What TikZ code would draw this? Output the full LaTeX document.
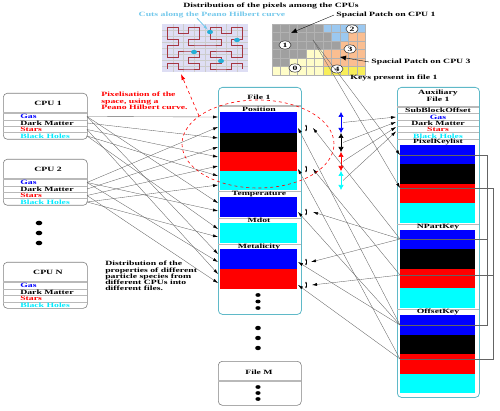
\documentclass[tikz,border=0pt]{standalone}
\usepackage{fontspec}
\setmainfont{Liberation Serif}
\usetikzlibrary{arrows.meta,positioning}

\definecolor{boxteal}{RGB}{95,185,200}
\definecolor{bhcyan}{RGB}{0,235,255}
\definecolor{barcyan}{RGB}{0,255,255}
\definecolor{barblue}{RGB}{0,0,255}
\definecolor{barred}{RGB}{255,0,0}
\definecolor{linkgray}{RGB}{100,100,100}
\definecolor{lavender1}{RGB}{222,222,244}
\definecolor{curvered}{RGB}{165,55,65}
\definecolor{cutcyan}{RGB}{35,175,215}
\definecolor{capcyan}{RGB}{115,200,235}
\definecolor{pG}{RGB}{160,160,160}
\definecolor{pB}{RGB}{155,200,240}
\definecolor{pO}{RGB}{250,190,145}
\definecolor{pY}{RGB}{255,253,200}
\definecolor{pV}{RGB}{248,238,90}

\tikzset{
  txt/.style={font=\bfseries\fontsize{6.5}{6.3}\selectfont, xscale=1.5, inner sep=0pt},
  cpubox/.style={draw=gray, rounded corners=4pt, line width=0.6pt, inner sep=0pt, anchor=north west},
  filebox/.style={draw=boxteal, rounded corners=4pt, line width=0.8pt, inner sep=0pt, anchor=north west},
  sepline/.style={draw=gray!55, line width=0.4pt},
  wire/.style={draw=linkgray, line width=0.35pt, -{Latex[length=5pt,width=3pt,color=black]}},
  stackarrow/.style={{Latex[length=5pt,width=5.5pt]}-{Latex[length=5pt,width=5.5pt]}, line width=0.6pt},
  keytick/.style={{Latex[length=1.8pt,width=1.8pt]}-{Latex[length=1.8pt,width=1.8pt]}, line width=0.4pt},
  pnum/.style={txt, circle, draw, fill=white, inner sep=1pt},
  patcharrow/.style={line width=0.35pt, -{Latex[length=6pt,width=5pt]}}
}

\begin{document}
\begin{tikzpicture}[x=1pt, y=-1pt, >={Latex[length=5pt,width=3pt]}]
\useasboundingbox (0,0) rectangle (500,411);

\node[txt] (toptitle) at (271,6) {Distribution of the pixels among the CPUs};
\node[txt, text=capcyan] (hcap) at (212,15) {Cuts along the Peano Hilbert curve};

\begin{scope}[shift={(162,72)}, x=10.75pt, y=6pt]
  \fill[lavender1] (0,0) rectangle (8,8);
  \foreach \i in {1,...,7}
    \draw[gray!40, line width=0.3pt] (\i,0) -- (\i,8) (0,\i) -- (8,\i);
  \draw[curvered, line width=0.9pt, shift={(0.5,0.5)}]
    (0,0) -- (0,1) -- (1,1) -- (1,0) -- (2,0) -- (3,0) -- (3,1) -- (2,1) -- (2,2) -- (3,2) -- (3,3) -- (2,3) -- (1,3) -- (1,2) -- (0,2) -- (0,3)
    -- (0,4) -- (1,4) -- (1,5) -- (0,5) -- (0,6) -- (0,7) -- (1,7) -- (1,6) -- (2,6) -- (2,7) -- (3,7) -- (3,6) -- (3,5) -- (2,5) -- (2,4) -- (3,4)
    -- (4,4) -- (5,4) -- (5,5) -- (4,5) -- (4,6) -- (4,7) -- (5,7) -- (5,6) -- (6,6) -- (6,7) -- (7,7) -- (7,6) -- (7,5) -- (6,5) -- (6,4) -- (7,4)
    -- (7,3) -- (7,2) -- (6,2) -- (6,3) -- (5,3) -- (4,3) -- (4,2) -- (5,2) -- (5,1) -- (4,1) -- (4,0) -- (5,0) -- (6,0) -- (6,1) -- (7,1) -- (7,0);
\end{scope}
\foreach \n/\x/\y in {cut1/210/32, cut2/237/40, cut3/194/52, cut4/221/61}{
  \coordinate (\n) at (\x,\y);
  \fill[cutcyan] (\n) ellipse (3pt and 2.2pt);
}
\draw[->, capcyan, line width=0.8pt] ([xshift=-15pt]hcap.south) -- ([xshift=-2pt,yshift=2pt]cut1);
\coordinate (hilb) at (181,74);

\begin{scope}[shift={(272,24)}, x=8.5pt, y=-8.5pt]
  \foreach \row [count=\r from 0] in {{G,G,G,G,G,G,B,B,B,B,B},{G,G,G,G,G,G,G,B,B,O,O},{G,G,G,G,G,G,G,G,O,O,O},{G,G,G,G,Y,Y,O,O,O,O,O},{G,G,Y,Y,Y,Y,O,O,O,O,O},{Y,Y,Y,Y,Y,Y,V,V,V,V,V}}
    \foreach \col [count=\k from 0] in \row
      \filldraw[fill=p\col, draw=black!30, line width=0.25pt] (\k,\r) rectangle ++(1,1);
\end{scope}
\node[pnum] (n1) at (285,45) {1};
\node[pnum] (n2) at (352,29) {2};
\node[pnum] (n3) at (350,49) {3};
\node[pnum] (n0) at (295,68) {0};
\node[pnum] (n4) at (337,69) {4};
\node[txt] (sp1) at (386,15) {Spacial Patch on CPU 1};
\node[txt] (sp3) at (421,62) {Spacial Patch on CPU 3};
\node[txt] (keys) at (394,78) {Keys present in file 1};
\coordinate (p1tip) at (291,33);
\coordinate (p3tip) at (340,57);
\coordinate (pc) at (313,40);
\draw[patcharrow] ([xshift=-2pt]sp1.west) -- (p1tip);
\draw[patcharrow] ([xshift=-2pt]sp3.west) -- (p3tip);

\foreach \n/\lbl/\y in {c1/CPU 1/93, c2/CPU 2/159, cN/CPU N/262}{
  \node[cpubox, minimum width=84pt, minimum height=46pt] (\n) at (3,\y) {};
  \node[txt] (\n-title) at (48,\y+10) {\lbl};
  \draw[sepline] (3,\y+19) -- (87,\y+19) (3,\y+20.5) -- (87,\y+20.5);
  \draw[sepline] (3,\y+26.8) -- (87,\y+26.8) (3,\y+33.2) -- (87,\y+33.2) (3,\y+39.7) -- (87,\y+39.7);
  \node[txt, anchor=west, text=barblue] (\n-gas-t) at (20,\y+23.5) {Gas};
  \node[txt, anchor=west] (\n-dm-t) at (20,\y+30) {Dark Matter};
  \node[txt, anchor=west, text=barred] (\n-st-t) at (20,\y+36.5) {Stars};
  \node[txt, anchor=west, text=bhcyan] (\n-bh-t) at (20,\y+43) {Black Holes};
  \foreach \s/\d in {gas/23.5, dm/30, st/36.5, bh/43}
    \coordinate (\n-\s) at (87,\y+\d);
}
\foreach \y in {223,233,243} \fill (39,\y) ellipse (3.3pt and 2.3pt);

\node[txt, text=barred, anchor=north west, align=left] (pixtxt) at (101,92) {Pixelisation of the\\space, using a\\Peano Hilbert curve.};
\node[txt, anchor=north west, align=left] (disttxt) at (105,261) {Distribution of the\\properties of different\\particle species from\\different CPUs into\\different files.};

\node[filebox, minimum width=83pt, minimum height=227pt] (f1) at (218,87) {};
\node[txt] (f1-title) at (259,97) {File 1};
\draw[sepline] (218,105) -- (301,105) (218,106.5) -- (301,106.5);
\foreach \col/\a/\b in {barblue/112/133, black/133/152, barred/152/171, barcyan/171/190, barblue/197/217, barcyan/223/243, barblue/249/269, barred/269/289}
  \fill[\col] (220,\a) rectangle (297,\b);
\draw[sepline] (218,191.5) -- (301,191.5) (218,218) -- (301,218) (218,244) -- (301,244);
\node[txt] (f1-pos) at (259,109.5) {Position};
\node[txt] (f1-temp) at (259,194) {Temperature};
\node[txt] (f1-mdot) at (259,220.5) {Mdot};
\node[txt] (f1-met) at (259,246.5) {Metalicity};
\foreach \y in {295,301.5,308} \fill (258,\y) ellipse (2.6pt and 1.9pt);
\foreach \y in {328,338,348} \fill (258,\y) ellipse (2.8pt and 2.2pt);

\node[cpubox, minimum width=83pt, minimum height=44pt] (fM) at (218,361) {};
\node[txt] (fM-title) at (259,372) {File M};
\draw[sepline] (218,380) -- (301,380) (218,381.5) -- (301,381.5);
\foreach \y in {387,393,399} \fill (258,\y) ellipse (2.6pt and 1.9pt);

\node[filebox, minimum width=82pt, minimum height=310pt] (aux) at (397,87) {};
\node[txt] (aux-t1) at (438,93) {Auxiliary};
\node[txt] (aux-t2) at (438,99.5) {File 1};
\draw[sepline] (397,106) -- (479,106) (397,107.5) -- (479,107.5);
\node[txt] (aux-sbo) at (438,110.5) {SubBlockOffset};
\draw[sepline] (397,113.5) -- (479,113.5) (397,120) -- (479,120) (397,126) -- (479,126) (397,132.5) -- (479,132.5) (397,139) -- (479,139);
\node[txt, text=barblue] (aux-gas) at (438,117) {Gas};
\node[txt] (aux-dm) at (438,123) {Dark Matter};
\node[txt, text=barred] (aux-st) at (438,129.5) {Stars};
\node[txt, text=bhcyan] (aux-bh) at (438,136) {Black Holes};
\foreach \lbl/\y in {PixelKeylist/145, NPartKey/230, OffsetKey/315}{
  \draw[sepline] (397,\y-6) -- (479,\y-6);
  \node[txt] at (438,\y-3) {\lbl};
  \fill[barblue] (400,\y) rectangle (475,\y+19.5);
  \fill[black] (400,\y+19.5) rectangle (475,\y+39);
  \fill[barred] (400,\y+39) rectangle (475,\y+58.5);
  \fill[barcyan] (400,\y+58.5) rectangle (475,\y+78);
}
\foreach \n/\y in {a-gas/117, a-dm/122, a-st/127, a-bh/131.5}
  \coordinate (\n) at (396,\y);
\foreach \n/\y in {pk-b/155, pk-r/188, np-b/239, np-r/275, of-b/325, of-r/359}
  \coordinate (\n) at (400,\y);
\draw[linkgray, line width=0.35pt] (pk-b) -- ++(87,0) |- (of-b) (np-b) -- ++(87,0);
\draw[linkgray, line width=0.35pt] (pk-r) -- ++(93,0) |- (of-r) (np-r) -- ++(93,0);

\foreach \col/\a/\b [count=\i] in {barblue/112/133, black/133/152, barred/152/171, barcyan/171/190}{
  \draw[stackarrow, \col] (341,\a) -- (341,\b);
  \coordinate (s\i) at (343,{(\a+\b)/2});
}
\draw[wire] (s1) -- (a-gas);
\draw[wire] (s2) -- (a-dm);
\draw[wire] (s3) -- (a-st);
\draw[wire] (s4) -- (a-bh);

\foreach \n/\y in {m1/128, m2/169, m3/212, m4/262, m5/285}{
  \coordinate (\n) at (306,\y);
  \draw[keytick] (306,\y-3.5) -- (306,\y+3.5);
}
\draw[wire] (np-b) -- ([xshift=7pt]m1);
\draw[wire] (np-b) -- ([xshift=7pt]m3);
\draw[wire] (np-b) -- ([xshift=5pt]m4);
\draw[wire] (np-r) -- ([xshift=7pt]m2);
\draw[wire] (np-r) -- ([xshift=6pt]m5);
\draw[wire] (of-b) -- ([xshift=-8pt]m1);
\draw[wire] (of-b) -- ([xshift=-8pt]m3);
\draw[wire] (of-b) -- ([xshift=-8pt]m4);
\draw[wire] (of-r) -- ([xshift=-8pt]m2);
\draw[wire] (of-r) -- ([xshift=-8pt]m5);

\draw[wire] (pc) -- (pk-b);
\draw[wire] (pc) -- (pk-r);

\foreach \a/\y in {c1-gas/117, c2-gas/127, c1-dm/138, c2-dm/147, c1-st/157, c2-st/166, c1-bh/176, c2-bh/185, c1-gas/203, c2-gas/211, c1-bh/229, c2-bh/237, c1-gas/254, c2-gas/262, c1-st/274, c2-st/283}
  \draw[wire] (\a) -- (f1.west |- 0,\y);

\draw[barred, dashed, line width=0.6pt] (258,144) ellipse (76pt and 44pt);
\coordinate (etl) at (199,116);
\draw[barred, dashed, line width=0.6pt, -{Latex[length=6pt,width=4pt]}] (etl) -- (hilb);
\end{tikzpicture}
\end{document}
